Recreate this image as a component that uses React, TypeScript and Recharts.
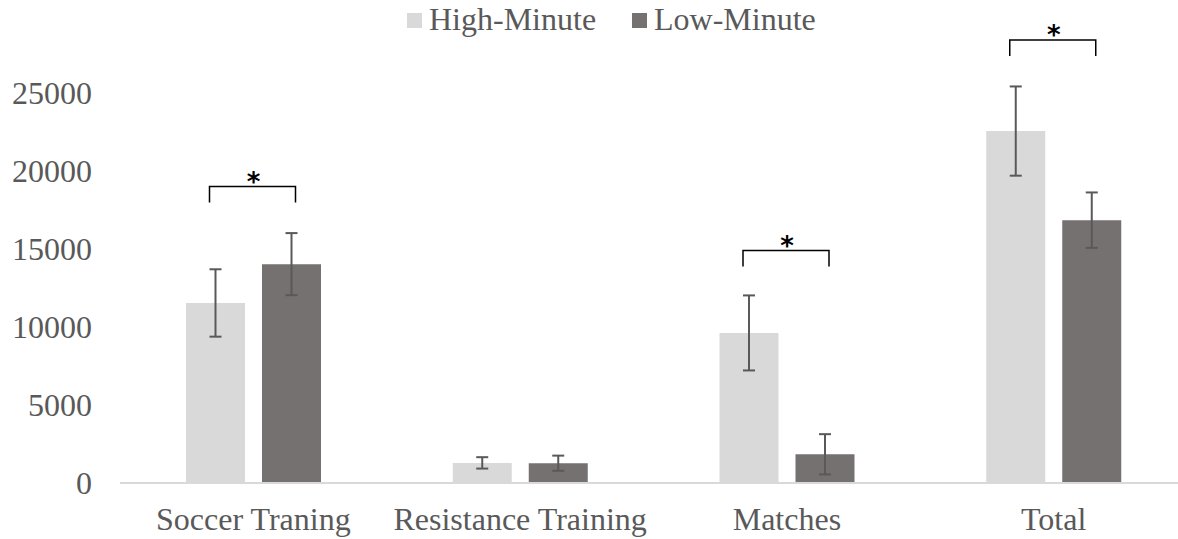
import { Bar, BarChart, ErrorBar, LabelList, XAxis, YAxis } from "recharts";

const categories = ["Soccer Traning", "Resistance Training", "Matches", "Total"];
const highMinute = [11540, 1290, 9620, 22560];
const highMinuteSd = [2160, 365, 2405, 2860];
const lowMinute = [14030, 1270, 1840, 16850];
const lowMinuteSd = [1990, 485, 1290, 1775];
// top of the significance bracket per category (null = no bracket)
const bracketTop: (number | null)[] = [19000, null, 14900, 28400];
const yTicks = [0, 5000, 10000, 15000, 20000, 25000];

const FONT = '"Liberation Serif", "Times New Roman", serif';
const TEXT = "#595959";
const HIGH = "#D9D9D9";
const LOW = "#767171";
const BAR_SIZE = 59;
const BAR_GAP = 17;

const data = categories.map((name, i) => ({
  name,
  high: highMinute[i],
  highSd: highMinuteSd[i],
  low: lowMinute[i],
  lowSd: lowMinuteSd[i],
  bracket: bracketTop[i],
}));

// drawn from the low bar's geometry: px per unit = height / value
function Bracket(props: any) {
  const idx = props.index;
  const top = bracketTop[idx];
  if (top == null) return null;
  const vb = props.viewBox ?? props;
  const { x, y, height } = vb;
  const pxPerUnit = height / lowMinute[idx];
  const base = y + height;
  const ly = base - top * pxPerUnit;
  const center = x - BAR_GAP / 2;
  const half = 43;
  const leg = 16;
  return (
    <g>
      <path
        d={`M${center - half - 1},${ly + leg} V${ly} H${center + half - 1} V${ly + leg}`}
        fill="none"
        stroke="#000"
        strokeWidth={1.5}
      />
      <text
        x={center}
        y={ly + 4}
        textAnchor="middle"
        style={{ fontFamily: '"DejaVu Sans", sans-serif', fontSize: 26, fontWeight: 700 }}
        fill="#000"
      >
        *
      </text>
    </g>
  );
}

function AxisTick(props: any) {
  const { x, y, payload, textAnchor, dy } = props;
  return (
    <text
      x={x}
      y={y}
      dy={dy}
      textAnchor={textAnchor}
      fill={TEXT}
      style={{ fontFamily: FONT, fontSize: 32 }}
    >
      {payload.value}
    </text>
  );
}

function Legend() {
  const items = [
    { label: "High-Minute", color: HIGH, left: 407 },
    { label: "Low-Minute", color: LOW, left: 632 },
  ];
  return (
    <>
      {items.map((it) => (
        <div key={it.label}>
          <div
            style={{
              position: "absolute",
              left: it.left,
              top: 13,
              width: 15,
              height: 15,
              background: it.color,
            }}
          />
          <div
            style={{
              position: "absolute",
              left: it.left + 22,
              top: 3,
              fontFamily: FONT,
              fontSize: 32,
              lineHeight: "32px",
              color: TEXT,
              whiteSpace: "nowrap",
            }}
          >
            {it.label}
          </div>
        </div>
      ))}
    </>
  );
}

export default function App() {
  return (
    <div
      style={{
        position: "fixed",
        left: 0,
        top: 0,
        width: 1178,
        height: 539,
        overflow: "hidden",
        background: "#fff",
        fontFamily: FONT,
      }}
    >
      <BarChart
        width={1200}
        height={539}
        data={data}
        margin={{ top: 15, right: 13, bottom: 26, left: 0 }}
        barSize={BAR_SIZE}
        barGap={BAR_GAP}
      >
        <XAxis
          dataKey="name"
          height={30}
          axisLine={{ stroke: HIGH, strokeWidth: 2 }}
          tickLine={false}
          tickSize={0}
          tickMargin={24}
          tick={<AxisTick dy={22.7} />}
          interval={0}
        />
        <YAxis
          width={120}
          domain={[0, 30000]}
          ticks={yTicks}
          axisLine={false}
          tickLine={false}
          tickSize={0}
          tickMargin={28}
          tick={<AxisTick dy={11} />}
        />
        <Bar dataKey="high" name="High-Minute" fill={HIGH} isAnimationActive={false}>
          <ErrorBar dataKey="highSd" width={6} stroke={TEXT} strokeWidth={2} />
        </Bar>
        <Bar dataKey="low" name="Low-Minute" fill={LOW} isAnimationActive={false}>
          <ErrorBar dataKey="lowSd" width={6} stroke={TEXT} strokeWidth={2} />
          <LabelList dataKey="bracket" content={(p: any) => <Bracket {...p} />} />
        </Bar>
      </BarChart>
      <Legend />
    </div>
  );
}
